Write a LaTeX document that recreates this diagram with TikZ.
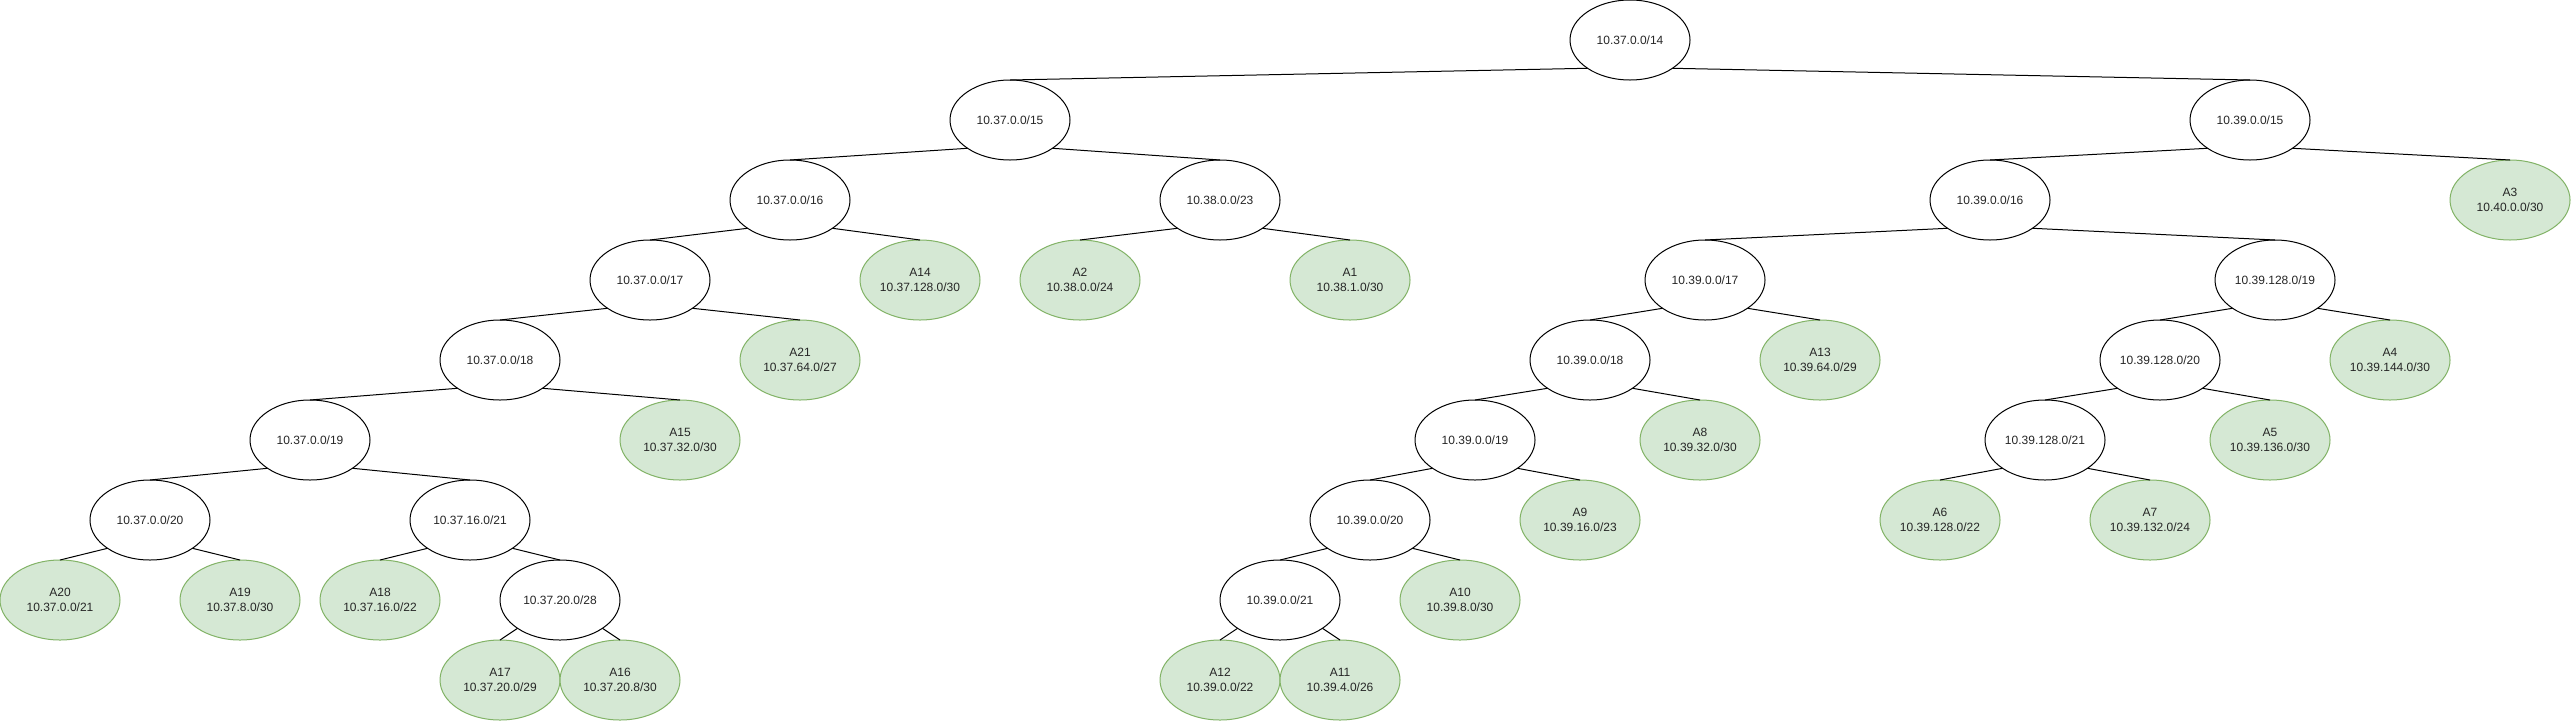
\documentclass[tikz,border=0pt]{standalone}
\usepackage{fontspec}
\setmainfont{Liberation Sans}
\usetikzlibrary{calc,shapes.geometric}
\definecolor{leaffill}{HTML}{D5E8D4}
\definecolor{leafline}{HTML}{82B366}
\tikzset{
  pnode/.style={ellipse, draw=black, line width=1pt, fill=white, minimum width=120pt, minimum height=80pt, inner sep=0pt, outer sep=0pt, font=\fontsize{12}{15}\selectfont, text=black!85, align=center},
  leaf/.style={pnode, draw=leafline, fill=leaffill},
  link/.style={draw=black, line width=1pt},
}
\newcommand{\lnk}[2]{\draw[link] ($(#1)+(-42.43,28.28)$) -- (#2.north);}
\newcommand{\rnk}[2]{\draw[link] ($(#1)+(42.43,28.28)$) -- (#2.north);}
\begin{document}
\begin{tikzpicture}[x=1pt,y=-1pt]
\fill[white] (0,0) rectangle (2571,721);
\useasboundingbox (0,0) rectangle (2571,721);
% row 40
\node[pnode] (R) at (1630,40) {10.37.0.0/14};
% row 120
\node[pnode] (n15a) at (1010,120) {10.37.0.0/15};
\node[pnode] (n15b) at (2250,120) {10.39.0.0/15};
% row 200
\node[pnode] (n16a) at (790,200) {10.37.0.0/16};
\node[pnode] (n23) at (1220,200) {10.38.0.0/23};
\node[pnode] (n16b) at (1990,200) {10.39.0.0/16};
\node[leaf] (A3) at (2510,200) {A3\\10.40.0.0/30};
% row 280
\node[pnode] (n17a) at (650,280) {10.37.0.0/17};
\node[leaf] (A14) at (920,280) {A14\\10.37.128.0/30};
\node[leaf] (A2) at (1080,280) {A2\\10.38.0.0/24};
\node[leaf] (A1) at (1350,280) {A1\\10.38.1.0/30};
\node[pnode] (n17b) at (1705,280) {10.39.0.0/17};
\node[pnode] (n19b) at (2275,280) {10.39.128.0/19};
% row 360
\node[pnode] (n18a) at (500,360) {10.37.0.0/18};
\node[leaf] (A21) at (800,360) {A21\\10.37.64.0/27};
\node[pnode] (n18b) at (1590,360) {10.39.0.0/18};
\node[leaf] (A13) at (1820,360) {A13\\10.39.64.0/29};
\node[pnode] (n20b) at (2160,360) {10.39.128.0/20};
\node[leaf] (A4) at (2390,360) {A4\\10.39.144.0/30};
% row 440
\node[pnode] (n19a) at (310,440) {10.37.0.0/19};
\node[leaf] (A15) at (680,440) {A15\\10.37.32.0/30};
\node[pnode] (n19c) at (1475,440) {10.39.0.0/19};
\node[leaf] (A8) at (1700,440) {A8\\10.39.32.0/30};
\node[pnode] (n21b) at (2045,440) {10.39.128.0/21};
\node[leaf] (A5) at (2270,440) {A5\\10.39.136.0/30};
% row 520
\node[pnode] (n20a) at (150,520) {10.37.0.0/20};
\node[pnode] (n21a) at (470,520) {10.37.16.0/21};
\node[pnode] (n20c) at (1370,520) {10.39.0.0/20};
\node[leaf] (A9) at (1580,520) {A9\\10.39.16.0/23};
\node[leaf] (A6) at (1940,520) {A6\\10.39.128.0/22};
\node[leaf] (A7) at (2150,520) {A7\\10.39.132.0/24};
% row 600
\node[leaf] (A20) at (60,600) {A20\\10.37.0.0/21};
\node[leaf] (A19) at (240,600) {A19\\10.37.8.0/30};
\node[leaf] (A18) at (380,600) {A18\\10.37.16.0/22};
\node[pnode] (n28) at (560,600) {10.37.20.0/28};
\node[pnode] (n21c) at (1280,600) {10.39.0.0/21};
\node[leaf] (A10) at (1460,600) {A10\\10.39.8.0/30};
% row 680
\node[leaf] (A17) at (500,680) {A17\\10.37.20.0/29};
\node[leaf] (A16) at (620,680) {A16\\10.37.20.8/30};
\node[leaf] (A12) at (1220,680) {A12\\10.39.0.0/22};
\node[leaf] (A11) at (1340,680) {A11\\10.39.4.0/26};
% edges
\lnk{R}{n15a} \rnk{R}{n15b}
\lnk{n15a}{n16a} \rnk{n15a}{n23}
\lnk{n15b}{n16b} \rnk{n15b}{A3}
\lnk{n16a}{n17a} \rnk{n16a}{A14}
\lnk{n23}{A2} \rnk{n23}{A1}
\lnk{n16b}{n17b} \rnk{n16b}{n19b}
\lnk{n17a}{n18a} \rnk{n17a}{A21}
\lnk{n17b}{n18b} \rnk{n17b}{A13}
\lnk{n19b}{n20b} \rnk{n19b}{A4}
\lnk{n18a}{n19a} \rnk{n18a}{A15}
\lnk{n18b}{n19c} \rnk{n18b}{A8}
\lnk{n20b}{n21b} \rnk{n20b}{A5}
\lnk{n19a}{n20a} \rnk{n19a}{n21a}
\lnk{n19c}{n20c} \rnk{n19c}{A9}
\lnk{n21b}{A6} \rnk{n21b}{A7}
\lnk{n20a}{A20} \rnk{n20a}{A19}
\lnk{n21a}{A18} \rnk{n21a}{n28}
\lnk{n20c}{n21c} \rnk{n20c}{A10}
\lnk{n28}{A17} \rnk{n28}{A16}
\lnk{n21c}{A12} \rnk{n21c}{A11}
\end{tikzpicture}
\end{document}
